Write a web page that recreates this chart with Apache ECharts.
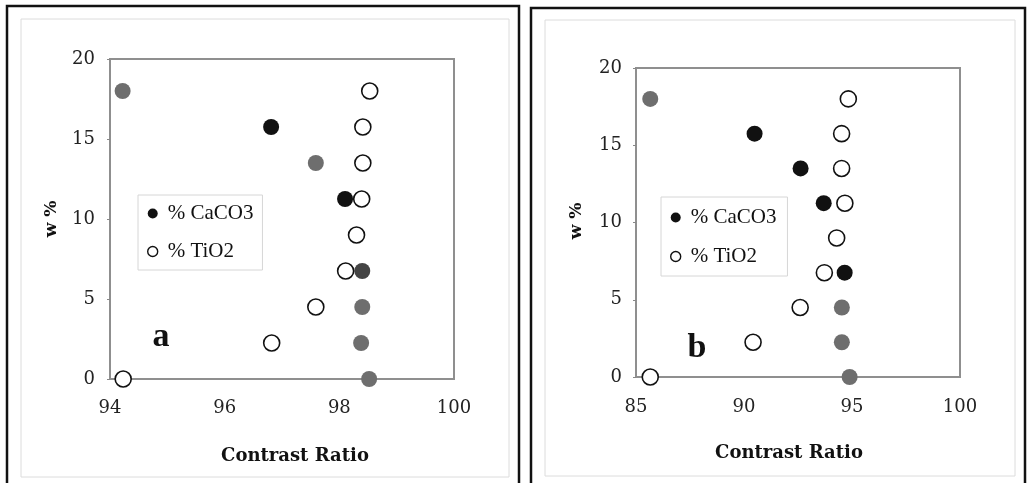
<!DOCTYPE html>
<html>
<head>
<meta charset="utf-8">
<script src="https://cdn.jsdelivr.net/npm/echarts@6/dist/echarts.min.js"></script>
<style>html,body{margin:0;padding:0;background:#fff;}#c{width:1031px;height:483px;}</style>
</head>
<body>
<div id="c"></div>
<script>
// ---- data ----
const seriesNames = ['% CaCO3', '% TiO2'];
const xTicksA = [94, 96, 98, 100];
const xTicksB = [85, 90, 95, 100];
const yTicks = [0, 5, 10, 15, 20];
const caco3A = [[94.22, 18], [96.81, 15.75], [97.59, 13.5], [98.10, 11.25], [98.40, 6.75], [98.40, 4.5], [98.38, 2.25], [98.52, 0]];
const tio2A = [[98.53, 18], [98.41, 15.75], [98.41, 13.5], [98.39, 11.25], [98.30, 9], [98.11, 6.75], [97.59, 4.5], [96.82, 2.25], [94.23, 0]];
const caco3B = [[85.66, 18], [90.49, 15.75], [92.62, 13.5], [93.69, 11.25], [94.66, 6.75], [94.53, 4.5], [94.53, 2.25], [94.89, 0]];
const tio2B = [[94.83, 18], [94.52, 15.75], [94.52, 13.5], [94.67, 11.25], [94.29, 9], [93.72, 6.75], [92.60, 4.5], [90.42, 2.25], [85.66, 0]];
const panelLabels = ['a', 'b'];
const axisTitleX = 'Contrast Ratio';
const axisTitleY = 'w %';

// ---- styles (kept apart from the data) ----
const GRAY = '#6e6e6e', BLACK = '#111';
const shadeA = [GRAY, BLACK, GRAY, BLACK, '#444', GRAY, GRAY, GRAY];
const shadeB = [GRAY, BLACK, BLACK, BLACK, BLACK, GRAY, GRAY, GRAY];
const FONT = 'Liberation Serif';
const TICKFONT = 'DejaVu Serif';

const chart = echarts.init(document.getElementById('c'), null, {renderer: 'canvas'});

function xAxis(gi, ticks, margin) {
  return {
    type: 'value', gridIndex: gi, min: ticks[0], max: ticks[ticks.length - 1],
    interval: ticks[1] - ticks[0],
    axisLine: {show: true, lineStyle: {color: '#8f8f8f', width: 2}},
    axisTick: {show: false},
    splitLine: {show: false},
    axisLabel: {margin: margin, color: '#222', fontFamily: TICKFONT, fontSize: 18}
  };
}
function yAxis(gi, margin) {
  return {
    type: 'value', gridIndex: gi, min: yTicks[0], max: yTicks[yTicks.length - 1], interval: yTicks[1] - yTicks[0],
    axisLine: {show: true, lineStyle: {color: '#8f8f8f', width: 2}},
    axisTick: {show: true, length: 3, lineStyle: {color: '#888'}},
    splitLine: {show: false},
    axisLabel: {margin: margin, color: '#222', fontFamily: TICKFONT, fontSize: 18}
  };
}
function filled(name, data, shades, gi) {
  return {
    name: name, type: 'scatter', xAxisIndex: gi, yAxisIndex: gi, clip: false,
    symbol: 'circle', symbolSize: 16, z: 2,
    itemStyle: {color: BLACK, opacity: 1},
    data: data.map((d, i) => ({value: d, itemStyle: {color: shades[i]}}))
  };
}
function open(name, data, gi) {
  return {
    name: name, type: 'scatter', xAxisIndex: gi, yAxisIndex: gi, clip: false,
    symbol: 'circle', symbolSize: 16, z: 3,
    itemStyle: {color: '#fff', borderColor: '#111', borderWidth: 1.6, opacity: 1},
    data: data
  };
}
function legend(left, top, gap, pad) {
  return {
    data: [
      {name: seriesNames[0], icon: 'circle'},
      {name: seriesNames[1], icon: 'circle', itemStyle: {color: '#fff', borderColor: '#111', borderWidth: 1.4}}
    ],
    orient: 'vertical', left: left, top: top, itemWidth: 10, itemHeight: 10, itemGap: gap,
    padding: pad, backgroundColor: '#fff', borderColor: '#d6d6d6', borderWidth: 1,
    selectedMode: false,
    textStyle: {fontFamily: FONT, fontSize: 21, color: '#111', padding: [0, 0, 0, 5]}
  };
}

chart.setOption({
  animation: false,
  backgroundColor: '#fff',
  grid: [
    {left: 110, top: 59, width: 344, height: 320, show: true, borderColor: '#8f8f8f', borderWidth: 2, backgroundColor: 'transparent'},
    {left: 636, top: 68, width: 324, height: 309, show: true, borderColor: '#8f8f8f', borderWidth: 2, backgroundColor: 'transparent'}
  ],
  xAxis: [xAxis(0, xTicksA, 20), xAxis(1, xTicksB, 21)],
  yAxis: [yAxis(0, 15), yAxis(1, 14)],
  legend: [legend(138, 195, 17, [8, 9, 8, 9]), legend(661, 197, 18, [10, 11, 9, 9])],
  series: [
    filled(seriesNames[0], caco3A, shadeA, 0),
    open(seriesNames[1], tio2A, 0),
    filled(seriesNames[0], caco3B, shadeB, 1),
    open(seriesNames[1], tio2B, 1)
  ],
  graphic: [
    // outer panel frames
    {type: 'rect', shape: {x: 7, y: 6, width: 512, height: 490}, style: {fill: 'none', stroke: '#111', lineWidth: 2.5}, z: 0, silent: true},
    {type: 'rect', shape: {x: 531, y: 8, width: 494, height: 490}, style: {fill: 'none', stroke: '#111', lineWidth: 2.5}, z: 0, silent: true},
    // faint inner frames
    {type: 'rect', shape: {x: 21, y: 19, width: 488, height: 458}, style: {fill: 'none', stroke: '#dcdcdc', lineWidth: 1}, z: 0, silent: true},
    {type: 'rect', shape: {x: 545, y: 20, width: 470, height: 456}, style: {fill: 'none', stroke: '#dcdcdc', lineWidth: 1}, z: 0, silent: true},
    // axis titles
    {type: 'text', x: 295, y: 456, style: {text: axisTitleX, font: 'bold 18px "DejaVu Serif"', fill: '#111', align: 'center', verticalAlign: 'middle'}, z: 5},
    {type: 'text', x: 789, y: 453, style: {text: axisTitleX, font: 'bold 18px "DejaVu Serif"', fill: '#111', align: 'center', verticalAlign: 'middle'}, z: 5},
    {type: 'text', x: 52, y: 219, rotation: Math.PI / 2, style: {text: axisTitleY, font: 'bold 17px "DejaVu Serif"', fill: '#111', align: 'center', verticalAlign: 'middle'}, z: 5},
    {type: 'text', x: 577, y: 221, rotation: Math.PI / 2, style: {text: axisTitleY, font: 'bold 17px "DejaVu Serif"', fill: '#111', align: 'center', verticalAlign: 'middle'}, z: 5},
    // panel letters
    {type: 'text', x: 161, y: 337, style: {text: panelLabels[0], font: 'bold 34px "Liberation Serif"', fill: '#111', align: 'center', verticalAlign: 'middle'}, z: 5},
    {type: 'text', x: 697, y: 348, style: {text: panelLabels[1], font: 'bold 34px "Liberation Serif"', fill: '#111', align: 'center', verticalAlign: 'middle'}, z: 5}
  ]
});
</script>
</body>
</html>
